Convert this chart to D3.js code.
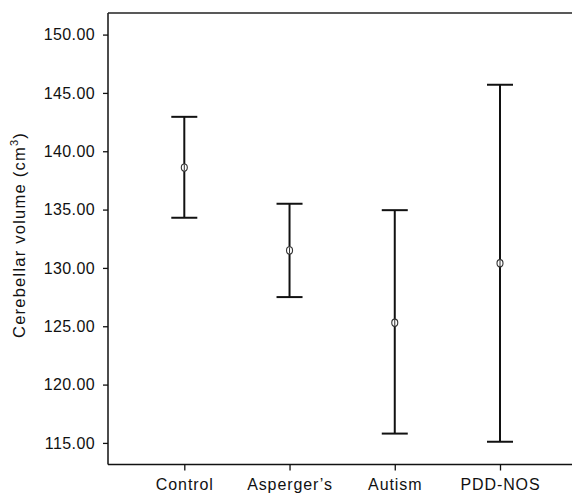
<!DOCTYPE html>
<html>
<head>
<meta charset="utf-8">
<script src="https://cdn.jsdelivr.net/npm/d3@7"></script>
<style>
  html, body { margin: 0; padding: 0; background: #fff; }
  svg { display: block; }
  text { font-family: "Liberation Sans", Arial, Helvetica, sans-serif; fill: #111; }
</style>
</head>
<body>
<svg id="chart" width="572" height="493"></svg>
<script>
const categories = ["Control", "Asperger\u2019s", "Autism", "PDD-NOS"];
const means = [138.6, 131.5, 125.3, 130.4];
const lower = [134.3, 127.5, 115.8, 115.1];
const upper = [142.95, 135.5, 134.95, 145.7];
const yTicks = [115, 120, 125, 130, 135, 140, 145, 150];

const svg = d3.select("#chart");
const mLeft = 108, mRight = 572, mTop = 13, mBottom = 464.5;

const y = d3.scaleLinear().domain([113.15, 151.85]).range([mBottom, mTop]);
const x = d3.scalePoint().domain(categories).range([184.3, 500]);

// y axis
const yAxis = d3.axisLeft(y).tickValues(yTicks).tickFormat(d3.format(".2f")).tickSize(5).tickSizeOuter(0).tickPadding(8);
const gy = svg.append("g").attr("transform", `translate(${mLeft},0)`).call(yAxis);
gy.select(".domain").attr("d", `M0,${mTop}V${mBottom}`).attr("stroke", "#111").attr("stroke-width", 1.5);
gy.selectAll(".tick line").attr("stroke", "#111").attr("stroke-width", 1.3);
gy.selectAll(".tick text").attr("font-size", 16).attr("letter-spacing", 0.4)
  .style("font-family", "'Liberation Sans', Arial, sans-serif").attr("fill", "#111");

// x axis
const xAxis = d3.axisBottom(x).tickSize(6).tickSizeOuter(0).tickPadding(10);
const gx = svg.append("g").attr("transform", `translate(0,${mBottom})`).call(xAxis);
gx.select(".domain").attr("d", `M${mLeft},0H${mRight}`).attr("stroke", "#111").attr("stroke-width", 1.5);
gx.selectAll(".tick line").attr("stroke", "#111").attr("stroke-width", 1.3);
gx.selectAll(".tick text").attr("font-size", 16).attr("letter-spacing", 0.9)
  .attr("dy", null).attr("y", 25)
  .style("font-family", "'Liberation Sans', Arial, sans-serif").attr("fill", "#111");

// top frame line
svg.append("line").attr("x1", mLeft).attr("x2", mRight).attr("y1", mTop).attr("y2", mTop)
  .attr("stroke", "#222").attr("stroke-width", 1.5);

// error bars
const data = categories.map((c, i) => ({c, m: means[i], lo: lower[i], hi: upper[i]}));
const g = svg.append("g");
const cap = 13;
data.forEach(d => {
  const cx = x(d.c);
  g.append("line").attr("x1", cx).attr("x2", cx).attr("y1", y(d.hi)).attr("y2", y(d.lo))
    .attr("stroke", "#111").attr("stroke-width", 2);
  g.append("line").attr("x1", cx - cap).attr("x2", cx + cap).attr("y1", y(d.hi)).attr("y2", y(d.hi))
    .attr("stroke", "#111").attr("stroke-width", 2);
  g.append("line").attr("x1", cx - cap).attr("x2", cx + cap).attr("y1", y(d.lo)).attr("y2", y(d.lo))
    .attr("stroke", "#111").attr("stroke-width", 2);
  g.append("ellipse").attr("cx", cx).attr("cy", y(d.m)).attr("rx", 3).attr("ry", 3.6)
    .attr("fill", "#fff").attr("stroke", "#333").attr("stroke-width", 1.1);
  g.append("line").attr("x1", cx).attr("x2", cx).attr("y1", y(d.m) - 3).attr("y2", y(d.m) + 3)
    .attr("stroke", "#333").attr("stroke-width", 1);
});

// y label
const yl = svg.append("text")
  .attr("transform", `translate(25,235) rotate(-90)`)
  .attr("text-anchor", "middle")
  .attr("font-size", 16.5)
  .attr("letter-spacing", 0);
yl.append("tspan").text("Cerebellar volume (cm");
yl.append("tspan").text("3").attr("font-size", 11).attr("dy", -7);
yl.append("tspan").text(")").attr("dy", 7);
// widen the label to the reference length
const w0 = yl.node().getBBox().width;
const nChars = "Cerebellar volume (cm3)".length;
yl.attr("letter-spacing", Math.max(0, (206 - w0) / nChars));
</script>
</body>
</html>
